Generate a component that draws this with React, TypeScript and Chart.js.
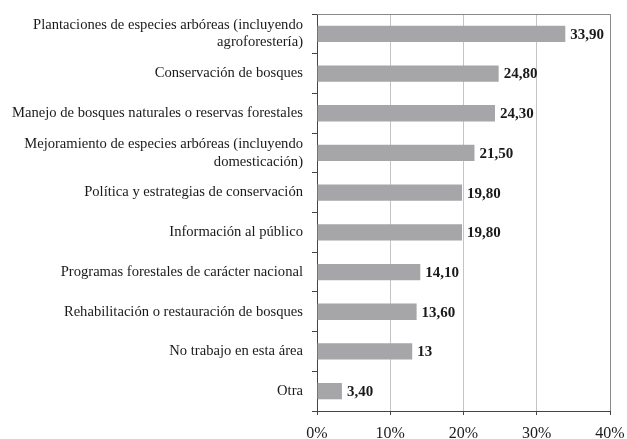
import React, { useEffect, useRef } from "react";
import { Chart, registerables } from "chart.js";

Chart.register(...registerables);

const categories: (string | string[])[] = [
  ["Plantaciones de especies arbóreas (incluyendo", "agroforestería)"],
  "Conservación de bosques",
  "Manejo de bosques naturales o reservas forestales",
  ["Mejoramiento de especies arbóreas (incluyendo", "domesticación)"],
  "Política y estrategias de conservación",
  "Información al público",
  "Programas forestales de carácter nacional",
  "Rehabilitación o restauración de bosques",
  "No trabajo en esta área",
  "Otra",
];
const values = [33.9, 24.8, 24.3, 21.5, 19.8, 19.8, 14.1, 13.6, 13, 3.4];
const xTicks = [0, 10, 20, 30, 40];

const SERIF = "'Liberation Serif', 'Times New Roman', serif";

const fmt = (v: number) =>
  Number.isInteger(v) ? String(v) : v.toFixed(2).replace(".", ",");

const valueLabels = {
  id: "valueLabels",
  afterDatasetsDraw(chart: any) {
    const ctx = chart.ctx;
    const meta = chart.getDatasetMeta(0);
    ctx.save();
    ctx.font = `bold 15px ${SERIF}`;
    ctx.fillStyle = "#1a1a1a";
    ctx.textAlign = "left";
    ctx.textBaseline = "middle";
    meta.data.forEach((bar: any, i: number) => {
      ctx.fillText(fmt(values[i]), bar.x + 5, bar.y + 1);
    });
    ctx.restore();
  },
};

const frame = {
  id: "frame",
  beforeDatasetsDraw(chart: any) {
    const { ctx, chartArea } = chart;
    ctx.save();
    ctx.strokeStyle = "#8a8a8a";
    ctx.lineWidth = 1;
    ctx.beginPath();
    ctx.moveTo(chartArea.left, chartArea.top + 0.5);
    ctx.lineTo(chartArea.right + 0.5, chartArea.top + 0.5);
    ctx.lineTo(chartArea.right + 0.5, chartArea.bottom);
    ctx.stroke();
    ctx.restore();
  },
};

export default function App() {
  const ref = useRef<HTMLCanvasElement>(null);
  useEffect(() => {
    document.body.style.margin = "0";
    const chart = new Chart(ref.current!, {
      type: "bar",
      data: {
        labels: categories,
        datasets: [
          {
            data: values,
            backgroundColor: "#a6a6a9",
            barPercentage: 0.41,
            categoryPercentage: 1,
          },
        ],
      },
      options: {
        indexAxis: "y",
        animation: false,
        responsive: false,
        maintainAspectRatio: false,
        layout: { padding: { top: 14, right: 17, bottom: 0, left: 0 } },
        plugins: { legend: { display: false }, tooltip: { enabled: false } },
        scales: {
          x: {
            min: 0,
            max: 40,
            afterBuildTicks: (s: any) => {
              s.ticks = xTicks.map((v) => ({ value: v }));
            },
            afterFit: (s: any) => {
              s.height = 28;
              s.paddingLeft = 0;
              s.paddingRight = 0;
            },
            ticks: {
              font: { family: SERIF, size: 16 },
              color: "#1a1a1a",
              padding: 9,
              callback: (v: any) => `${v}%`,
            },
            grid: {
              color: "#c4c4c4",
              tickColor: "#444",
              tickLength: 4,
              lineWidth: 1,
            },
            border: { color: "#444", width: 1 },
          },
          y: {
            afterFit: (s: any) => {
              s.width = 317;
              s.paddingTop = 0;
              s.paddingBottom = 0;
            },
            ticks: {
              font: { family: SERIF, size: 14.6, lineHeight: 1.2 },
              color: "#1a1a1a",
              padding: 9,
            },
            grid: {
              drawOnChartArea: false,
              drawTicks: true,
              tickLength: 5,
              tickColor: "#444",
              offset: true,
            },
            border: { color: "#444", width: 1 },
          },
        },
      },
      plugins: [frame, valueLabels],
    });
    return () => chart.destroy();
  }, []);
  return (
    <div style={{ width: 627, height: 439 }}>
      <canvas ref={ref} width={627} height={439} />
    </div>
  );
}
